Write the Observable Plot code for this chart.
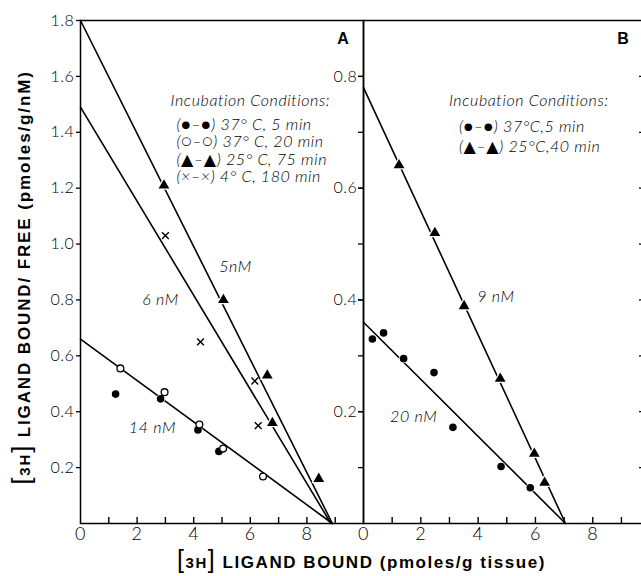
<!DOCTYPE html>
<html><head><meta charset="utf-8">
<script src="https://cdn.jsdelivr.net/npm/d3@7"></script>
<script src="https://cdn.jsdelivr.net/npm/@observablehq/plot@0.6"></script>
<style>
body{margin:0;background:#fff;}
#wrap{position:relative;width:641px;height:576px;overflow:hidden;background:#fff;}
#wrap svg{position:absolute;left:0;top:0;max-width:none;}
#wrap svg text{letter-spacing:0.6px;}
</style></head><body><div id="wrap"></div>
<script>
// ---- tick labels ----
const xTicks = [0, 2, 4, 6, 8];
const xMinorTicks = [1, 2, 3, 4, 5, 6, 7, 8, 9];
const aYTicks = [0.2, 0.4, 0.6, 0.8, 1.0, 1.2, 1.4, 1.6, 1.8];
const bYTicks = [0.2, 0.4, 0.6, 0.8];
const bYMinorTicks = [0.1, 0.2, 0.3, 0.4, 0.5, 0.6, 0.7, 0.8];

// ---- Panel A data ----
const aTriX = [2.95, 5.05, 6.6, 6.78, 8.42];
const aTriY = [1.21, 0.80, 0.53, 0.36, 0.16];
const aCrossX = [3.0, 4.24, 6.16, 6.28];
const aCrossY = [1.03, 0.65, 0.51, 0.35];
const aOpenX = [1.41, 2.97, 4.2, 5.04, 6.45];
const aOpenY = [0.555, 0.47, 0.354, 0.268, 0.168];
const aFilledX = [1.24, 2.83, 4.15, 4.89];
const aFilledY = [0.463, 0.446, 0.335, 0.258];
const aFitNames = ["5nM", "6 nM", "14 nM"];
const aFitYIntercept = [1.80, 1.49, 0.66];
const aFitXIntercept = [8.9, 8.85, 8.9];
const aFitLabelX = [5.48, 2.83, 2.54];
const aFitLabelY = [0.92, 0.80, 0.343];
const legendTitle = "Incubation Conditions:";
const aLegend = ["(●–●) 37° C, 5 min", "(○–○) 37° C, 20 min", "(▲–▲) 25° C, 75 min", "(×–×) 4° C, 180 min"];

// ---- Panel B data ----
const bTriX = [1.24, 2.49, 3.51, 4.77, 5.96, 6.32];
const bTriY = [0.641, 0.52, 0.389, 0.259, 0.125, 0.073];
const bDotX = [0.31, 0.70, 1.40, 2.46, 3.12, 4.80, 5.82];
const bDotY = [0.33, 0.341, 0.295, 0.27, 0.172, 0.102, 0.064];
const bFitNames = ["9 nM", "20 nM"];
const bFitYIntercept = [0.78, 0.36];
const bFitXIntercept = [7.05, 7.05];
const bFitLabelX = [4.62, 1.75];
const bFitLabelY = [0.405, 0.191];
const bLegend = ["(●–●) 37°C,5 min", "(▲–▲) 25°C,40 min"];

const pts = (xs, ys) => xs.map((x, i) => ({x, y: ys[i]}));
const fits = (xi, yi) => yi.flatMap((y0, i) => [{x: 0, y: y0, k: i}, {x: xi[i], y: 0, k: i}]);
const fitLabels = (names, xs, ys) => names.map((t, i) => ({t, x: xs[i], y: ys[i]}));

const FONT = "Lato, 'DejaVu Sans', sans-serif";
const txt = {fontSize: 16, fontStyle: "italic", fontWeight: 300, fill: "black"};

function dotMarks(tri, filled, open, cross) {
  const m = [];
  if (filled) m.push(Plot.dot(filled, {x: "x", y: "y", r: 3.8, fill: "black", stroke: "white", strokeWidth: 1.5, paintOrder: "stroke"}));
  if (open) m.push(Plot.dot(open, {x: "x", y: "y", r: 3.4, fill: "white", stroke: "black", strokeWidth: 1.3}));
  if (tri) m.push(Plot.dot(tri, {x: "x", y: "y", r: 4, symbol: "triangle", fill: "black", stroke: "white", strokeWidth: 2.5, paintOrder: "stroke"}));
  if (cross) m.push(Plot.dot(cross, {x: "x", y: "y", r: 3.2, symbol: "times", stroke: "black", strokeWidth: 1.4}));
  return m;
}

const plotA = Plot.plot({
  width: 641, height: 576,
  marginLeft: 80, marginRight: 278, marginTop: 20, marginBottom: 53,
  x: {domain: [0, 10]},
  y: {domain: [0, 1.8]},
  style: {fontFamily: FONT, background: "transparent", color: "black", overflow: "visible"},
  marks: [
    // inward minor x ticks (6px up from the axis)
    Plot.ruleX(xMinorTicks, {x: d => d, insetTop: 497, stroke: "black", strokeWidth: 1.4}),
    Plot.axisX({ticks: xTicks, tickSize: 0, tickPadding: 4, fontSize: 18, fontWeight: 300, label: null}),
    Plot.axisY({ticks: aYTicks, tickSize: 4, tickPadding: 2, tickFormat: d => d.toFixed(1), fontSize: 16, fontWeight: 300, label: null, strokeWidth: 1.3}),
    Plot.line(fits(aFitXIntercept, aFitYIntercept), {x: "x", y: "y", z: "k", stroke: "black", strokeWidth: 1.6}),
    ...dotMarks(pts(aTriX, aTriY), pts(aFilledX, aFilledY), pts(aOpenX, aOpenY), pts(aCrossX, aCrossY)),
    Plot.text(fitLabels(aFitNames, aFitLabelX, aFitLabelY), {x: "x", y: "y", text: "t", ...txt}),
    Plot.text([legendTitle], {x: 3.18, y: 1.514, text: d => d, textAnchor: "start", ...txt}),
    Plot.text([aLegend.join("\n")], {x: 3.39, y: 1.452, text: d => d, textAnchor: "start", lineAnchor: "top", lineHeight: 1.08, ...txt}),
    Plot.text(["A"], {x: 9.29, y: 1.736, text: d => d, fontSize: 16, fontWeight: "bold", fill: "black", fontFamily: "'Liberation Sans', sans-serif"}),
    Plot.frame({stroke: "black", strokeWidth: 1.5})
  ]
});

const plotB = Plot.plot({
  width: 645, height: 576,
  marginLeft: 363, marginRight: 0, marginTop: 20, marginBottom: 53,
  x: {domain: [0, 9.84]},
  y: {domain: [0, 0.9]},
  style: {fontFamily: FONT, background: "transparent", color: "black", overflow: "visible"},
  marks: [
    Plot.ruleX(xMinorTicks, {x: d => d, insetTop: 497, stroke: "black", strokeWidth: 1.4}),
    Plot.axisX({ticks: xTicks, tickSize: 0, tickPadding: 4, fontSize: 18, fontWeight: 300, label: null}),
    // outward minor ticks on the left edge, inward ticks on the right edge
    Plot.ruleY(bYMinorTicks, {y: d => d, insetLeft: -5, insetRight: 282, stroke: "black", strokeWidth: 1.3}),
    Plot.ruleY(bYMinorTicks, {y: d => d, insetLeft: 276, stroke: "black", strokeWidth: 1.3}),
    Plot.axisY({ticks: bYTicks, tickSize: 5, tickPadding: 1, tickFormat: d => d.toFixed(1), fontSize: 16, fontWeight: 300, label: null, strokeWidth: 1.3}),
    Plot.line(fits(bFitXIntercept, bFitYIntercept), {x: "x", y: "y", z: "k", stroke: "black", strokeWidth: 1.6}),
    ...dotMarks(pts(bTriX, bTriY), pts(bDotX, bDotY), null, null),
    Plot.text(fitLabels(bFitNames, bFitLabelX, bFitLabelY), {x: "x", y: "y", text: "t", ...txt}),
    Plot.text([legendTitle], {x: 2.98, y: 0.757, text: d => d, textAnchor: "start", ...txt}),
    Plot.text([bLegend.join("\n")], {x: 3.33, y: 0.7275, text: d => d, textAnchor: "start", lineAnchor: "top", lineHeight: 1.3, ...txt}),
    Plot.text(["B"], {x: 9.07, y: 0.868, text: d => d, fontSize: 16, fontWeight: "bold", fill: "black", fontFamily: "'Liberation Sans', sans-serif"}),
    Plot.frame({stroke: "black", strokeWidth: 1.5})
  ]
});

const wrap = document.getElementById("wrap");
wrap.appendChild(plotA);
wrap.appendChild(plotB);

// axis titles with large brackets around 3H
function addTitle(svg, transform, rest, len) {
  const t = d3.select(svg).append("text")
    .attr("transform", transform)
    .attr("text-anchor", "middle")
    .attr("font-family", "'Liberation Sans', Arial, sans-serif")
    .attr("font-weight", "bold")
    .attr("fill", "black")
    .attr("textLength", len)
    .attr("lengthAdjust", "spacing");
  t.append("tspan").attr("font-size", 25).attr("font-weight", "normal").text("[");
  t.append("tspan").attr("font-size", 15).text("3H");
  t.append("tspan").attr("font-size", 25).attr("font-weight", "normal").text("]");
  t.append("tspan").attr("font-size", 17).text(rest);
}
addTitle(plotA, "translate(30,278) rotate(-90)", " LIGAND BOUND/ FREE (pmoles/g/nM)", 413);
addTitle(plotA, "translate(361,568)", " LIGAND BOUND (pmoles/g tissue)", 368);
</script></body></html>
